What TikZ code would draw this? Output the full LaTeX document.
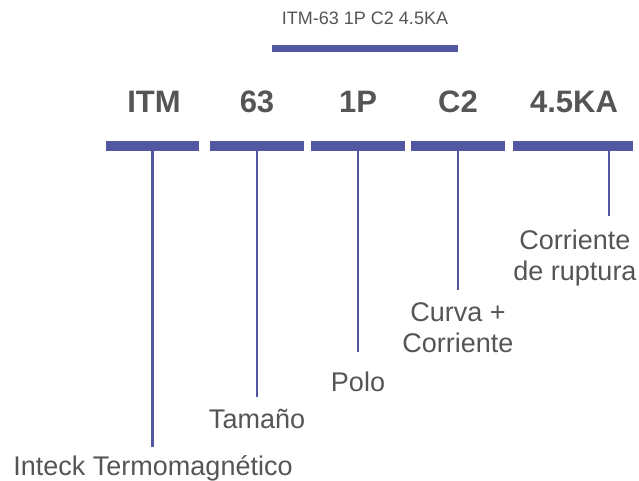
\documentclass[tikz,border=0pt]{standalone}
\usepackage{fontspec}
\setmainfont{Liberation Sans}
\usetikzlibrary{positioning}
\definecolor{barblue}{HTML}{5157A1}
\definecolor{txtgray}{HTML}{555555}
\tikzset{
  seg/.style={fill=barblue, minimum height=10pt, inner sep=0pt},
  code/.style={text=txtgray, font=\fontsize{31}{31}\selectfont\bfseries, anchor=base},
  stem/.style={draw=barblue, line width=2.5pt},
  desc/.style={text=txtgray, font=\fontsize{27}{31}\selectfont, align=center, anchor=north, inner sep=0pt}
}
\begin{document}
\begin{tikzpicture}[x=1pt,y=-1pt]
\useasboundingbox (0,0) rectangle (639,481);
% titulo
\node[text=txtgray, font=\fontsize{18}{18}\selectfont, anchor=base] (title) at (365,25) {ITM-63 1P C2 4.5KA};
\node[seg, minimum width=186pt, minimum height=7pt] (top) at (365,49) {};
% codigo
\node[code] (cITM) at (154,113) {ITM};
\node[code] (c63) at (257,113) {63};
\node[code] (c1P) at (358,113) {1P};
\node[code] (cC2) at (458,113) {C2};
\node[code] (cKA) at (574,113) {4.5KA};
% segmentos
\node[seg, minimum width=93pt] (sITM) at (152.5,146) {};
\node[seg, minimum width=94pt] (s63) at (257,146) {};
\node[seg, minimum width=94pt] (s1P) at (358,146) {};
\node[seg, minimum width=94pt] (sC2) at (458,146) {};
\node[seg, minimum width=120pt] (sKA) at (573,146) {};
% extremos
\coordinate (eITM) at (152.5,447);
\coordinate (e63) at (257,397);
\coordinate (e1P) at (358,352);
\coordinate (eC2) at (458,290);
\coordinate (eKA) at (609,216);
\draw[stem] (sITM.south) -- (eITM);
\draw[stem] (s63.south) -- (e63);
\draw[stem] (s1P.south) -- (e1P);
\draw[stem] (sC2.south) -- (eC2);
\draw[stem] (sKA.south -| eKA) -- (eKA);
% descripciones
\node[desc] (lITM) at (153,455) {Inteck Termomagnético};
\node[desc] (l63) at (257,409) {Tamaño};
\node[desc] (l1P) at (358,372) {Polo};
\node[desc] (lC2) at (458,302) {Curva +\\Corriente};
\node[desc] (lKA) at (575,230) {Corriente\\de ruptura};
\end{tikzpicture}
\end{document}
